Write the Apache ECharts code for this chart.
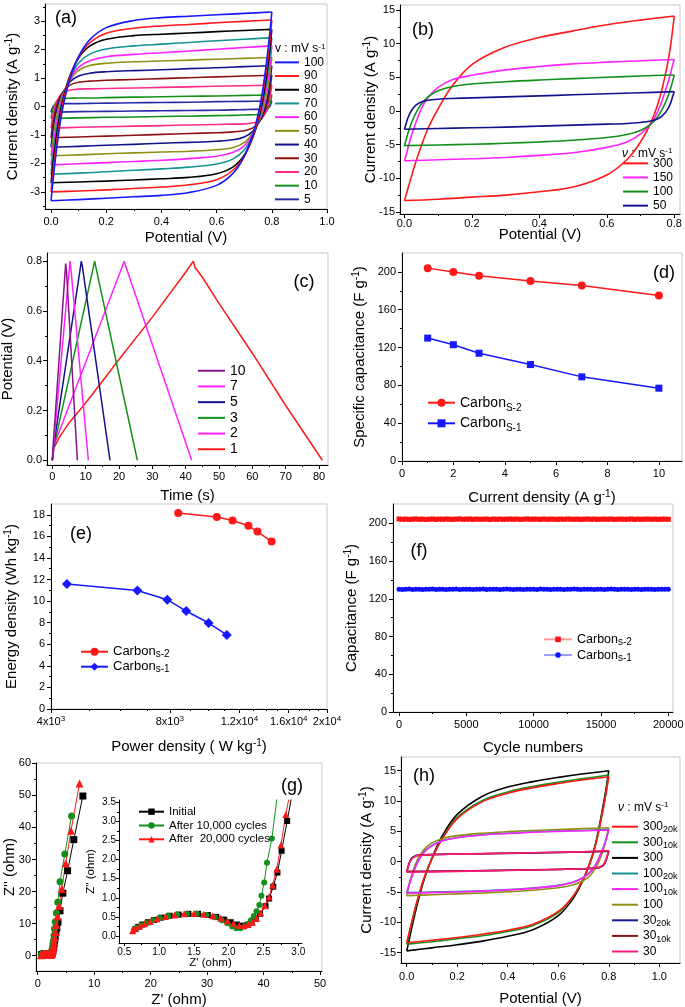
<!DOCTYPE html>
<html><head><meta charset="utf-8">
<script src="https://cdn.jsdelivr.net/npm/echarts@6/dist/echarts.min.js"></script>
<style>html,body{margin:0;padding:0;background:#fff}#c{width:685px;height:1007px}</style>
</head><body><div id="c"></div>
<script>
// ================= DATA =================
// shared potential path for CV loops (forward 0→0.8 V, then reverse 0.8→0 V)
const CV_V = [0,0.005,0.01,0.02,0.035,0.05,0.07,0.1,0.14,0.2,0.3,0.4,0.5,0.6,0.7,0.8,
              0.8,0.795,0.79,0.78,0.765,0.75,0.73,0.7,0.66,0.6,0.5,0.4,0.3,0.2,0.1,0];

// (a) CV at 5–100 mV/s (current density, A/g)
const A_RATES = ['100','90','80','70','60','50','40','30','20','10','5'];
const A_I100 = [-3.31,-2.8,-2.34,-1.5,-0.45,0.3,1.02,1.76,2.34,2.77,3.02,3.12,3.17,3.22,3.27,3.32, 3.32,2.8,2.34,1.5,0.45,-0.3,-1.02,-1.76,-2.34,-2.77,-3.02,-3.12,-3.17,-3.22,-3.27,-3.31];
const A_I90  = [-3.00,-2.5,-2.05,-1.25,-0.3,0.42,1.08,1.74,2.23,2.57,2.75,2.83,2.88,2.94,2.99,3.04, 3.04,2.5,2.05,1.25,0.3,-0.42,-1.08,-1.74,-2.23,-2.57,-2.75,-2.83,-2.88,-2.93,-2.97,-3.00];
const A_I80  = [-2.68,-2.2,-1.76,-1.01,-0.12,0.50,1.12,1.71,2.12,2.36,2.49,2.54,2.58,2.63,2.67,2.71, 2.71,2.2,1.76,1.01,0.12,-0.50,-1.12,-1.71,-2.12,-2.36,-2.49,-2.54,-2.58,-2.62,-2.65,-2.68];
const A_I70  = [-2.38,-1.92,-1.51,-0.81,-0.03,0.52,1.05,1.53,1.84,2.02,2.13,2.19,2.25,2.31,2.36,2.42, 2.42,1.92,1.51,0.81,0.03,-0.52,-1.05,-1.53,-1.84,-2.02,-2.13,-2.19,-2.24,-2.29,-2.34,-2.38];
const A_I60  = [-2.05,-1.62,-1.24,-0.6,0.1,0.55,1.0,1.38,1.61,1.75,1.83,1.89,1.95,2.01,2.07,2.13, 2.13,1.62,1.24,0.6,-0.1,-0.55,-1.0,-1.38,-1.61,-1.75,-1.83,-1.89,-1.93,-1.97,-2.01,-2.05];
const A_I50  = [-1.73,-1.3,-0.93,-0.34,0.24,0.58,0.95,1.27,1.44,1.52,1.57,1.60,1.63,1.66,1.69,1.72, 1.72,1.3,0.93,0.34,-0.24,-0.58,-0.95,-1.27,-1.44,-1.52,-1.57,-1.60,-1.63,-1.66,-1.70,-1.73];
const A_I40  = [-1.43,-1.01,-0.66,-0.14,0.33,0.60,0.88,1.07,1.17,1.22,1.26,1.29,1.33,1.36,1.40,1.43, 1.43,1.01,0.66,0.14,-0.33,-0.60,-0.88,-1.07,-1.17,-1.22,-1.26,-1.29,-1.33,-1.36,-1.40,-1.43];
const A_I30  = [-1.10,-0.71,-0.40,0.03,0.38,0.60,0.76,0.85,0.89,0.92,0.95,0.98,1.01,1.04,1.07,1.10, 1.10,0.71,0.40,-0.03,-0.38,-0.60,-0.76,-0.85,-0.89,-0.92,-0.95,-0.98,-1.01,-1.04,-1.07,-1.10];
const A_I20  = [-0.76,-0.42,-0.16,0.17,0.40,0.52,0.58,0.61,0.62,0.63,0.65,0.67,0.69,0.71,0.73,0.75, 0.75,0.42,0.16,-0.17,-0.40,-0.52,-0.58,-0.61,-0.62,-0.63,-0.65,-0.67,-0.69,-0.71,-0.73,-0.76];
const A_I10  = [-0.42,-0.16,0.0,0.17,0.25,0.28,0.29,0.30,0.30,0.31,0.33,0.34,0.36,0.37,0.39,0.40, 0.40,0.16,0.0,-0.17,-0.25,-0.28,-0.29,-0.30,-0.31,-0.32,-0.34,-0.35,-0.37,-0.38,-0.40,-0.42];
const A_I5   = [-0.20,-0.05,0.03,0.07,0.09,0.10,0.10,0.10,0.11,0.12,0.13,0.14,0.15,0.17,0.18,0.19, 0.19,0.05,-0.03,-0.07,-0.09,-0.10,-0.10,-0.11,-0.12,-0.13,-0.14,-0.15,-0.16,-0.17,-0.18,-0.20];

// (b) CV at 50–300 mV/s
const B_RATES = ['300','150','100','50'];
const B_I300 = [-13.3,-12.5,-11.6,-9.9,-7.4,-5.2,-2.6,0.3,3.6,6.9,9.5,10.9,11.9,12.8,13.5,14.1, 14.1,12.0,10.0,7.0,3.5,0.8,-1.8,-4.6,-7.2,-9.5,-11.3,-12.0,-12.5,-12.8,-13.1,-13.3];
const B_I150 = [-7.4,-6.6,-5.6,-3.8,-1.6,0.3,2.0,3.5,4.6,5.3,6.1,6.6,7.0,7.25,7.45,7.65, 7.65,6.8,5.8,4.0,1.7,-0.2,-1.9,-3.4,-4.6,-5.4,-6.2,-6.6,-6.9,-7.1,-7.25,-7.4];
const B_I100 = [-5.15,-4.3,-3.4,-1.9,-0.2,1.0,2.1,3.0,3.6,4.0,4.35,4.6,4.8,5.0,5.2,5.35, 5.35,4.4,3.5,2.0,0.3,-0.9,-2.0,-2.9,-3.5,-3.95,-4.35,-4.6,-4.8,-4.95,-5.05,-5.15];
const B_I50  = [-2.72,-1.9,-1.1,0.0,0.9,1.35,1.6,1.75,1.85,1.95,2.1,2.25,2.4,2.55,2.7,2.87, 2.87,2.1,1.3,0.2,-0.7,-1.2,-1.5,-1.7,-1.85,-1.95,-2.1,-2.25,-2.4,-2.5,-2.6,-2.72];

// (c) galvanostatic charge–discharge (time s, potential V)
const C_LABELS = ['10','7','5','3','2','1'];
const C_T10 = [0,0.2,4.0,4.2,7.5];      const C_V10 = [0,0.05,0.79,0.77,0];
const C_T7  = [0,0.3,5.3,5.5,10.8];     const C_V7  = [0,0.05,0.80,0.78,0];
const C_T5  = [0,0.3,8.7,9.0,17.3];     const C_V5  = [0,0.05,0.80,0.78,0];
const C_T3  = [0,0.4,12.7,13.0,25.5];   const C_V3  = [0,0.05,0.80,0.78,0];
const C_T2  = [0,0.5,21.6,22.0,41.8];   const C_V2  = [0,0.06,0.80,0.78,0];
const C_T1  = [0,0.5,2,5,10,20,30,40,42.3,42.8,45,50,60,70,81];
const C_V1  = [0,0.05,0.09,0.15,0.23,0.405,0.575,0.755,0.80,0.775,0.735,0.63,0.43,0.22,0];

// (d) specific capacitance vs current density
const D_J   = [1,2,3,5,7,10];
const D_CS2 = [204,200,196,190.5,185.5,175];
const D_CS1 = [130,123,114,102,89,77];

// (e) Ragone
const E_P_S2 = [8400,10520,11530,12650,13330,14480];
const E_E_S2 = [18.16,17.79,17.47,16.98,16.45,15.52];
const E_P_S1 = [4390,6620,7880,8800,10030,11150];
const E_E_S1 = [11.58,10.99,10.13,9.08,7.97,6.86];

// (f) cycling
const F_CYCLES = [0,250,500,750,1000,1250,1500,1750,2000,
  2250,2500,2750,3000,3250,3500,3750,4000,4250,
  4500,4750,5000,5250,5500,5750,6000,6250,6500,
  6750,7000,7250,7500,7750,8000,8250,8500,8750,
  9000,9250,9500,9750,10000,10250,10500,10750,11000,
  11250,11500,11750,12000,12250,12500,12750,13000,13250,
  13500,13750,14000,14250,14500,14750,15000,15250,15500,
  15750,16000,16250,16500,16750,17000,17250,17500,17750,
  18000,18250,18500,18750,19000,19250,19500,19750,20000];
const F_CS2 = [204.6,204.3,204.5,204.2,204.4,204.7,204.3,204.5,204.1,
  204.4,204.6,204.2,204.5,204.3,204.6,204.4,204.2,204.5,
  204.7,204.3,204.4,204.6,204.2,204.5,204.3,204.4,204.6,
  204.1,204.5,204.3,204.5,204.2,204.4,204.6,204.3,204.5,
  204.2,204.4,204.7,204.3,204.5,204.4,204.2,204.6,204.3,
  204.5,204.4,204.2,204.5,204.3,204.6,204.4,204.3,204.5,
  204.2,204.4,204.6,204.3,204.5,204.2,204.4,204.5,204.3,
  204.6,204.2,204.4,204.5,204.3,204.4,204.6,204.2,204.5,
  204.3,204.4,204.6,204.3,204.5,204.2,204.4,204.5,204.3];
const F_CS1 = [130.2,129.9,130.1,130.3,129.8,130.0,130.2,129.9,130.1,
  130.0,130.3,129.9,130.1,130.2,129.8,130.0,130.1,130.3,
  129.9,130.2,130.0,130.1,129.8,130.2,130.0,130.3,129.9,
  130.1,130.0,130.2,129.9,130.1,130.3,130.0,129.8,130.2,
  130.1,129.9,130.0,130.2,130.1,129.9,130.3,130.0,130.1,
  129.8,130.2,130.0,130.1,129.9,130.2,130.0,130.3,130.1,
  129.9,130.0,130.2,130.1,129.8,130.0,130.2,129.9,130.1,
  130.3,130.0,129.9,130.1,130.2,130.0,129.8,130.1,130.2,
  129.9,130.1,130.0,130.2,129.9,130.1,130.0,130.2,130.0];

// (g) Nyquist [Z', Z'']
const G_INIT = [[0.66,0.18],[0.70,0.24],[0.76,0.30],[0.84,0.36],[0.93,0.42],[1.03,0.48],[1.15,0.53],[1.28,0.56],[1.42,0.58],[1.56,0.58],[1.70,0.55],[1.82,0.50],[1.93,0.43],[2.03,0.36],[2.12,0.30],[2.20,0.27],[2.27,0.29],[2.33,0.35],[2.39,0.45],[2.45,0.58],[2.53,0.78],[2.58,0.98],[2.64,1.29],[2.70,1.66],[2.76,2.23],[2.84,3.01],[2.93,3.9],[3.0,4.8],[3.1,5.9],[3.22,7.2],[3.38,8.6],[3.6,10.5],[3.95,14.0],[4.45,19.5],[5.3,26.5],[6.4,36.2],[8.0,49.8]];
const G_10K = [[0.64,0.16],[0.68,0.22],[0.74,0.28],[0.82,0.34],[0.91,0.41],[1.01,0.47],[1.13,0.52],[1.26,0.56],[1.40,0.58],[1.54,0.58],[1.68,0.55],[1.80,0.49],[1.90,0.41],[1.98,0.33],[2.05,0.25],[2.11,0.20],[2.17,0.20],[2.23,0.25],[2.28,0.32],[2.32,0.41],[2.36,0.52],[2.40,0.65],[2.44,0.81],[2.47,1.05],[2.51,1.40],[2.55,1.92],[2.62,2.55],[2.7,3.7],[2.78,4.7],[2.87,6.3],[2.97,8.4],[3.1,10.6],[3.3,13.3],[3.55,16.7],[3.95,23.1],[4.8,31.7],[6.0,43.6]];
const G_20K = [[0.62,0.14],[0.66,0.20],[0.72,0.26],[0.79,0.32],[0.87,0.38],[0.97,0.45],[1.09,0.51],[1.22,0.55],[1.36,0.58],[1.50,0.59],[1.64,0.57],[1.77,0.53],[1.88,0.47],[1.98,0.40],[2.07,0.33],[2.15,0.28],[2.22,0.27],[2.28,0.30],[2.34,0.36],[2.40,0.46],[2.46,0.60],[2.52,0.80],[2.58,1.02],[2.63,1.33],[2.69,1.75],[2.75,2.38],[2.82,3.18],[2.93,4.2],[3.02,5.6],[3.15,7.4],[3.3,9.6],[3.5,12.2],[3.78,15.5],[4.25,20.8],[4.96,28.8],[5.9,39.0],[7.4,53.7]];

// (h) CV before/after cycling
const H_I300     = [-14.7,-13.8,-12.8,-10.9,-8.2,-5.7,-2.8,0.6,4.2,7.8,10.8,12.3,13.2,13.9,14.5,15.0, 15.0,13.6,12.2,9.8,6.4,3.4,0.4,-2.9,-6.0,-8.9,-11.2,-12.3,-13.1,-13.7,-14.2,-14.7];
const H_I300_10K = [-13.6,-12.8,-11.9,-10.1,-7.6,-5.3,-2.6,0.5,3.8,7.3,10.1,11.5,12.4,13.1,13.7,14.3, 14.3,13.0,11.6,9.3,6.1,3.2,0.3,-2.8,-5.7,-8.4,-10.5,-11.5,-12.2,-12.7,-13.2,-13.6];
const H_I300_20K = [-13.35,-12.5,-11.6,-9.9,-7.4,-5.2,-2.5,0.5,3.7,7.1,9.9,11.3,12.2,12.9,13.5,14.0, 14.0,12.7,11.4,9.1,6.0,3.1,0.3,-2.7,-5.6,-8.2,-10.3,-11.3,-11.95,-12.5,-12.95,-13.35];
const H_I100     = [-5.6,-4.7,-3.8,-2.2,-0.4,0.9,2.1,3.1,3.8,4.3,4.7,4.95,5.15,5.3,5.45,5.6, 5.6,4.7,3.8,2.2,0.4,-0.9,-2.1,-3.1,-3.8,-4.3,-4.7,-4.95,-5.15,-5.3,-5.45,-5.6];
const H_I100_10K = [-5.2,-4.5,-3.8,-2.5,-0.9,0.4,1.6,2.6,3.4,3.95,4.4,4.65,4.85,5.0,5.1,5.2, 5.2,4.5,3.8,2.5,0.9,-0.4,-1.6,-2.6,-3.4,-3.95,-4.4,-4.65,-4.85,-5.0,-5.1,-5.2];
const H_I100_20K = [-5.1,-4.4,-3.7,-2.4,-0.8,0.5,1.7,2.7,3.45,4.0,4.45,4.7,4.9,5.05,5.15,5.3, 5.3,4.55,3.85,2.55,0.95,-0.35,-1.55,-2.55,-3.35,-3.9,-4.35,-4.6,-4.8,-4.92,-5.02,-5.1];
const H_I30      = [-1.75,-1.0,-0.35,0.45,0.9,1.05,1.12,1.17,1.2,1.25,1.32,1.4,1.48,1.56,1.65,1.85, 1.85,1.2,0.5,-0.4,-0.85,-1.0,-1.1,-1.17,-1.22,-1.28,-1.36,-1.44,-1.52,-1.6,-1.68,-1.75];
const H_I30_10K  = [-1.6,-0.9,-0.2,0.6,1.0,1.1,1.15,1.18,1.22,1.27,1.33,1.4,1.47,1.54,1.62,1.75, 1.75,1.05,0.35,-0.5,-0.9,-1.02,-1.1,-1.16,-1.2,-1.26,-1.33,-1.4,-1.46,-1.52,-1.57,-1.6];
const H_I30_20K  = [-1.65,-0.95,-0.25,0.55,0.95,1.08,1.13,1.17,1.2,1.25,1.31,1.38,1.45,1.52,1.6,1.72, 1.72,1.02,0.32,-0.52,-0.92,-1.04,-1.12,-1.18,-1.22,-1.28,-1.35,-1.42,-1.48,-1.54,-1.6,-1.65];
const H_LABELS = ['300{sub|20k}','300{sub|10k}','300','100{sub|20k}','100{sub|10k}','100','30{sub|20k}','30{sub|10k}','30'];

// tick values / labels
const A_XT = [0,0.2,0.4,0.6,0.8,1.0], A_XM = [0.1,0.3,0.5,0.7,0.9];
const A_YT = [-3,-2,-1,0,1,2,3], A_YM = [-3.5,-2.5,-1.5,-0.5,0.5,1.5,2.5,3.5];
const B_XT = [0,0.2,0.4,0.6,0.8], B_XM = [0.1,0.3,0.5,0.7];
const B_YT = [-15,-10,-5,0,5,10,15], B_YM = [-12.5,-7.5,-2.5,2.5,7.5,12.5];
const C_XT = [0,10,20,30,40,50,60,70,80], C_XM = [5,15,25,35,45,55,65,75];
const C_YT = [0,0.2,0.4,0.6,0.8], C_YM = [0.1,0.3,0.5,0.7];
const D_XT = [0,2,4,6,8,10], D_XM = [1,3,5,7,9];
const D_YT = [0,40,80,120,160,200], D_YM = [20,60,100,140,180];
const E_XT = [4000,8000,12000,16000,20000];
const E_XL = ['4x10{sup|3}','8x10{sup|3}','1.2x10{sup|4}','1.6x10{sup|4}','2x10{sup|4}'];
const E_XM = [5000,6000,7000,9000,10000,11000,13000,14000,15000,17000,18000,19000];
const E_YT = [0,2,4,6,8,10,12,14,16,18], E_YM = [1,3,5,7,9,11,13,15,17];
const F_XT = [0,5000,10000,15000,20000], F_XM = [2500,7500,12500,17500];
const F_YT = [0,40,80,120,160,200], F_YM = [20,60,100,140,180];
const G_XT = [0,10,20,30,40,50], G_XM = [5,15,25,35,45];
const G_YT = [0,10,20,30,40,50,60], G_YM = [5,15,25,35,45,55];
const I_XT = [0.5,1.0,1.5,2.0,2.5,3.0], I_XM = [0.75,1.25,1.75,2.25,2.75];
const I_YT = [0,0.5,1.0,1.5,2.0,2.5,3.0,3.5], I_YM = [0.25,0.75,1.25,1.75,2.25,2.75,3.25];
const H_XT = [0,0.2,0.4,0.6,0.8,1.0], H_XM = [0.1,0.3,0.5,0.7,0.9];
const H_YT = [-15,-10,-5,0,5,10,15], H_YM = [-12.5,-7.5,-2.5,2.5,7.5,12.5];

// ================= BUILD =================
const FONT = "'Liberation Sans', Arial, Helvetica, sans-serif";
const grids = [], xAxes = [], yAxes = [], series = [], legends = [], graphics = [];
const LBL = {};

function nameRich(fs){
  const s = Math.round(fs*0.66);
  return {sup:{fontSize:s,lineHeight:s,verticalAlign:'top',fontFamily:FONT,color:'#000'}};
}
const TICK_RICH = {sup:{fontSize:8,lineHeight:8,verticalAlign:'top',fontFamily:FONT,color:'#000'}};

function addGrid(r, frame){
  grids.push({left:r[0],top:r[1],width:r[2],height:r[3],show:frame,borderColor:'#c8c8c8',borderWidth:1,backgroundColor:'transparent',containLabel:false,outerBoundsMode:'none'});
  return grids.length-1;
}
function addAxis(dim, gi, o){
  const pos = dim==='x'?'bottom':'left';
  const fs = o.fs||11, nfs = o.nfs||15;
  const major = {
    type:'value', gridIndex:gi, min:o.min, max:o.max, position:pos,
    axisLine:{show:true,onZero:false,lineStyle:{color:'#000',width:1}},
    axisTick:{show:true,inside:false,length:o.tl||4,customValues:o.ticks,lineStyle:{color:'#000',width:1}},
    axisLabel:{show:true,customValues:o.labels||o.ticks,formatter:o.fmt,fontSize:fs,lineHeight:fs+3,color:'#000',fontFamily:FONT,
      margin:(o.margin==null?6:o.margin),rich:TICK_RICH,hideOverlap:false,showMinLabel:true,showMaxLabel:true},
    splitLine:{show:false}, splitArea:{show:false},
    name:o.name||'', nameLocation:'middle', nameGap:o.gap||20, nameMoveOverlap:false,
    nameTextStyle:{fontSize:nfs,lineHeight:nfs+3,fontFamily:FONT,color:'#000',rich:nameRich(nfs)},
    z:5
  };
  const minor = {
    type:'value', gridIndex:gi, min:o.min, max:o.max, position:pos,
    axisLine:{show:false,onZero:false},
    axisTick:{show:!!(o.minor&&o.minor.length),inside:false,length:2,customValues:o.minor||[],lineStyle:{color:'#000',width:1}},
    axisLabel:{show:false}, splitLine:{show:false}, splitArea:{show:false}, z:5
  };
  const arr = dim==='x'?xAxes:yAxes;
  arr.push(major); const idx = arr.length-1; arr.push(minor);
  return idx;
}
// each CV loop = forward branch + reverse branch (same name -> one legend entry)
function pushCV(name, xi, yi, ys, color, w){
  const pts = CV_V.map((v,i)=>[v,ys[i]]);
  const half = CV_V.length/2;
  [pts.slice(0,half), pts.slice(half)].forEach(d=>{
    series.push({type:'line', name, xAxisIndex:xi, yAxisIndex:yi, data:d,
      symbol:'none', showSymbol:false, smooth:0.35, clip:true, color,
      lineStyle:{width:w||1.5,color,join:'round'}, itemStyle:{color}, emphasis:{disabled:true}, animation:false});
  });
}
function ptSeries(name, xi, yi, data, color, sym, size, lineColor, lw){
  return {type:'line', name, xAxisIndex:xi, yAxisIndex:yi, data, symbol:sym, symbolSize:size, showSymbol:true,
    clip:true, color, lineStyle:{width:lw||1.2,color:lineColor||color}, itemStyle:{color, borderWidth:0},
    emphasis:{disabled:true}, animation:false};
}
function addLegend(o){
  legends.push({show:true, left:o.left, top:o.top, orient:'vertical', padding:0, itemGap:0,
    itemWidth:o.iw, itemHeight:o.ih||2, icon:o.icon, data:o.data, selectedMode:false,
    formatter:n=>LBL[n],
    textStyle:{fontSize:o.fs, lineHeight:o.lh, fontFamily:FONT, color:'#000',
      rich:{sub:{fontSize:o.sfs||Math.round(o.fs*0.68), lineHeight:Math.round(o.fs*0.68), verticalAlign:'bottom', fontFamily:FONT, color:'#000'}}}});
}
function txt(x,y,text,fs,align,extra){
  graphics.push({type:'text', x, y, z:20, style:Object.assign({text, fontSize:fs, fontFamily:FONT, fill:'#000',
    align:align||'center', verticalAlign:'middle',
    rich:{sup:{fontSize:8,lineHeight:8,verticalAlign:'top',fontFamily:FONT,fill:'#000'},
          i:{fontStyle:'italic',fontSize:fs,lineHeight:fs+3,fontFamily:FONT,fill:'#000'}}}, extra||{})});
}
const f1 = v => v.toFixed(1), f0 = v => String(Math.round(v));

// ---- (a)
const A_CURVES = [A_I100,A_I90,A_I80,A_I70,A_I60,A_I50,A_I40,A_I30,A_I20,A_I10,A_I5];
const A_COLORS = ['#1818ff','#ff1818','#000000','#139393','#ff22ff','#8f8f12','#12128c','#8c1212','#ff2a8a','#12901a','#2a2aa6'];
{
  const g = addGrid([45,4,282,205], true);
  const xi = addAxis('x', g, {min:-0.022,max:1.0,ticks:A_XT,minor:A_XM,fmt:f1,name:'Potential (V)',gap:20,margin:6});
  const yi = addAxis('y', g, {min:-3.6,max:3.6,ticks:A_YT,minor:A_YM,fmt:f0,name:'Current density (A g{sup|-1})',gap:23,margin:5});
  for (let i=A_CURVES.length-1;i>=0;i--){ const n='a_'+A_RATES[i]; LBL[n]=A_RATES[i]; pushCV(n,xi,yi,A_CURVES[i],A_COLORS[i],1.6); }
  addLegend({left:275,top:55.5,iw:24,ih:2,icon:'rect',fs:12,lh:13.7,data:A_RATES.map(r=>'a_'+r)});
  txt(66,18,'(a)',18);
  txt(275,49,'v : mV s{sup|-1}',12,'left');
}
// ---- (b)
const B_CURVES = [B_I300,B_I150,B_I100,B_I50];
const B_COLORS = ['#ff1818','#ff22ff','#12901a','#12128c'];
{
  const g = addGrid([400,5,280,209], true);
  const xi = addAxis('x', g, {min:-0.013,max:0.817,ticks:B_XT,minor:B_XM,fmt:f1,name:'Potential (V)',gap:12,margin:3});
  const yi = addAxis('y', g, {min:-15.3,max:15.74,ticks:B_YT,minor:B_YM,fmt:f0,name:'Current density (A g{sup|-1})',gap:20,margin:5});
  for (let i=0;i<B_CURVES.length;i++){ const n='b_'+B_RATES[i]; LBL[n]=B_RATES[i]; pushCV(n,xi,yi,B_CURVES[i],B_COLORS[i],1.6); }
  addLegend({left:623,top:156.3,iw:25,ih:2,icon:'rect',fs:12,lh:14.1,data:B_RATES.map(r=>'b_'+r)});
  txt(423,30,'(b)',18);
  txt(622,154,'{i|ν} : mV s{sup|-1}',12,'left');
}
// ---- (c)
const C_T = [C_T10,C_T7,C_T5,C_T3,C_T2,C_T1], C_V = [C_V10,C_V7,C_V5,C_V3,C_V2,C_V1];
const C_COLORS = ['#84158a','#ff22ff','#12128c','#12901a','#ff22ff','#ff1818'];
{
  const g = addGrid([47,253,281,212], true);
  const xi = addAxis('x', g, {min:-1.6,max:82.7,ticks:C_XT,minor:C_XM,fmt:f0,name:'Time (s)',gap:22,margin:5});
  const yi = addAxis('y', g, {min:-0.019,max:0.8325,ticks:C_YT,minor:C_YM,fmt:f1,name:'Potential (V)',gap:30,margin:5});
  for (let i=C_T.length-1;i>=0;i--){ const n='c_'+C_LABELS[i]; LBL[n]=C_LABELS[i];
    series.push(ptSeries(n,xi,yi,C_T[i].map((t,k)=>[t,C_V[i][k]]),C_COLORS[i],'none',0,null,1.5)); }
  addLegend({left:198,top:362.9,iw:27,ih:2,icon:'rect',fs:14,lh:15.7,data:C_LABELS.map(r=>'c_'+r)});
  txt(304,282,'(c)',18);
}
// ---- (d)
{
  const g = addGrid([402,253,280,208], true);
  const xi = addAxis('x', g, {min:0,max:10.9,ticks:D_XT,minor:D_XM,fmt:f0,name:'Current density (A g{sup|-1})',gap:28,margin:6});
  const yi = addAxis('y', g, {min:0,max:220,ticks:D_YT,minor:D_YM,fmt:f0,name:'Specific capacitance (F g{sup|-1})',gap:33,margin:6});
  LBL['d_s2']='Carbon{sub|S-2}'; LBL['d_s1']='Carbon{sub|S-1}';
  series.push(ptSeries('d_s2',xi,yi,D_J.map((x,k)=>[x,D_CS2[k]]),'#ff1818','circle',8,null,1.5));
  series.push(ptSeries('d_s1',xi,yi,D_J.map((x,k)=>[x,D_CS1[k]]),'#1818ff','rect',7,null,1.5));
  addLegend({left:427,top:392.4,iw:27,ih:10,fs:14,lh:20.6,data:['d_s2','d_s1']});
  txt(664,273,'(d)',18);
}
// ---- (e)  (log10 power axis)
{
  const g = addGrid([51,504,276,205], true);
  const lg = v => Math.log10(v);
  const xi = addAxis('x', g, {min:lg(4000),max:lg(20000),ticks:E_XT.map(lg),minor:E_XM.map(lg),
    fmt:v=>{let b=0;E_XT.forEach((t,i)=>{if(Math.abs(lg(t)-v)<Math.abs(lg(E_XT[b])-v))b=i;});return E_XL[b];},
    name:'Power density ( W kg{sup|-1})',gap:29,margin:6});
  const yi = addAxis('y', g, {min:0,max:19,ticks:E_YT,minor:E_YM,fmt:f0,name:'Energy density (Wh kg{sup|-1})',gap:30,margin:6});
  LBL['e_s2']='Carbon{sub|s-2}'; LBL['e_s1']='Carbon{sub|s-1}';
  series.push(ptSeries('e_s2',xi,yi,E_P_S2.map((p,k)=>[lg(p),E_E_S2[k]]),'#ff1818','circle',8,null,1.5));
  series.push(ptSeries('e_s1',xi,yi,E_P_S1.map((p,k)=>[lg(p),E_E_S1[k]]),'#1818ff','diamond',10,null,1.5));
  addLegend({left:80,top:644.2,iw:27,ih:10,fs:13,lh:15,sfs:10,data:['e_s2','e_s1']});
  txt(81,534,'(e)',18);
}
// ---- (f)
{
  const g = addGrid([393,504,280,208], true);
  const xi = addAxis('x', g, {min:-446,max:20349,ticks:F_XT,minor:F_XM,fmt:f0,name:'Cycle numbers',gap:27,margin:6});
  const yi = addAxis('y', g, {min:0,max:220.5,ticks:F_YT,minor:F_YM,fmt:f0,name:'Capacitance (F g{sup|-1})',gap:32,margin:6});
  LBL['f_s2']='Carbon{sub|s-2}'; LBL['f_s1']='Carbon{sub|s-1}';
  series.push(ptSeries('f_s2',xi,yi,F_CYCLES.map((c,k)=>[c,F_CS2[k]]),'#ff1010','rect',5,'#ff9a9a',1));
  series.push(ptSeries('f_s1',xi,yi,F_CYCLES.map((c,k)=>[c,F_CS1[k]]),'#1010ff','circle',5,'#9a9aff',1));
  addLegend({left:543,top:631.5,iw:28,ih:7,fs:12.5,lh:15.7,sfs:10,data:['f_s2','f_s1']});
  txt(419,551,'(f)',18);
}
// ---- (g) main + inset
{
  const g = addGrid([36,763,286,208], true);
  const xi = addAxis('x', g, {min:-0.3,max:50.35,ticks:G_XT,minor:G_XM,fmt:f0,name:"Z' (ohm)",gap:20,margin:6});
  const yi = addAxis('y', g, {min:-4.77,max:60.1,ticks:G_YT,minor:G_YM,fmt:f0,name:"Z'' (ohm)",gap:17,margin:5});
  series.push(ptSeries('g_init',xi,yi,G_INIT,'#000000','rect',7,null,1));
  series.push(ptSeries('g_10k',xi,yi,G_10K,'#12901a','circle',7,null,1));
  series.push(ptSeries('g_20k',xi,yi,G_20K,'#ff1818','triangle',8,null,1));
  const gi = addGrid([119,800,183,143], false);
  const xj = addAxis('x', gi, {min:0.424,max:3.053,ticks:I_XT,minor:I_XM,fmt:f1,fs:10,nfs:11.5,tl:3,name:"Z' (ohm)",gap:13,margin:3});
  const yj = addAxis('y', gi, {min:-0.184,max:3.56,ticks:I_YT,minor:I_YM,fmt:f1,fs:10,nfs:11.5,tl:3,name:"Z'' (ohm)",gap:21,margin:3});
  LBL['gi_init']='Initial'; LBL['gi_10k']='After 10,000 cycles'; LBL['gi_20k']='After  20,000 cycles';
  series.push(ptSeries('gi_init',xj,yj,G_INIT,'#000000','rect',6,null,1));
  series.push(ptSeries('gi_10k',xj,yj,G_10K,'#12901a','circle',6,null,1));
  series.push(ptSeries('gi_20k',xj,yj,G_20K,'#ff1818','triangle',7,null,1));
  addLegend({left:138,top:804.8,iw:25,ih:8,fs:11.5,lh:13.8,data:['gi_init','gi_10k','gi_20k']});
  txt(292,786,'(g)',18);
}
// ---- (h)
const H_CURVES = [H_I300_20K,H_I300_10K,H_I300,H_I100_20K,H_I100_10K,H_I100,H_I30_20K,H_I30_10K,H_I30];
const H_COLORS = ['#ff1818','#12901a','#000000','#139393','#ff22ff','#8f8f12','#1a1a9a','#8c1212','#ff1a7a'];
const H_ORDER = [2,1,0,5,3,4,6,7,8];
{
  const g = addGrid([401,757,279,206], true);
  const xi = addAxis('x', g, {min:-0.0226,max:1.082,ticks:H_XT,minor:H_XM,fmt:f1,name:'Potential (V)',gap:27,margin:7});
  const yi = addAxis('y', g, {min:-16.7,max:17.26,ticks:H_YT,minor:H_YM,fmt:f0,name:'Current density (A g{sup|-1})',gap:25,margin:5});
  H_ORDER.forEach(i=>{ const n='h_'+i; LBL[n]=H_LABELS[i]; pushCV(n,xi,yi,H_CURVES[i],H_COLORS[i],1.6); });
  addLegend({left:612,top:818.9,iw:26,ih:2,icon:'rect',fs:12,lh:15.6,sfs:9,data:H_LABELS.map((_,i)=>'h_'+i)});
  txt(424,776,'(h)',18);
  txt(618,808,'{i|ν} : mV s{sup|-1}',12,'left');
}

const chart = echarts.init(document.getElementById('c'), null, {renderer:'canvas', width:685, height:1007});
chart.setOption({
  animation:false, backgroundColor:'#ffffff',
  textStyle:{fontFamily:FONT},
  grid:grids, xAxis:xAxes, yAxis:yAxes, series, legend:legends, graphic:graphics, tooltip:{show:false}
});
</script></body></html>
